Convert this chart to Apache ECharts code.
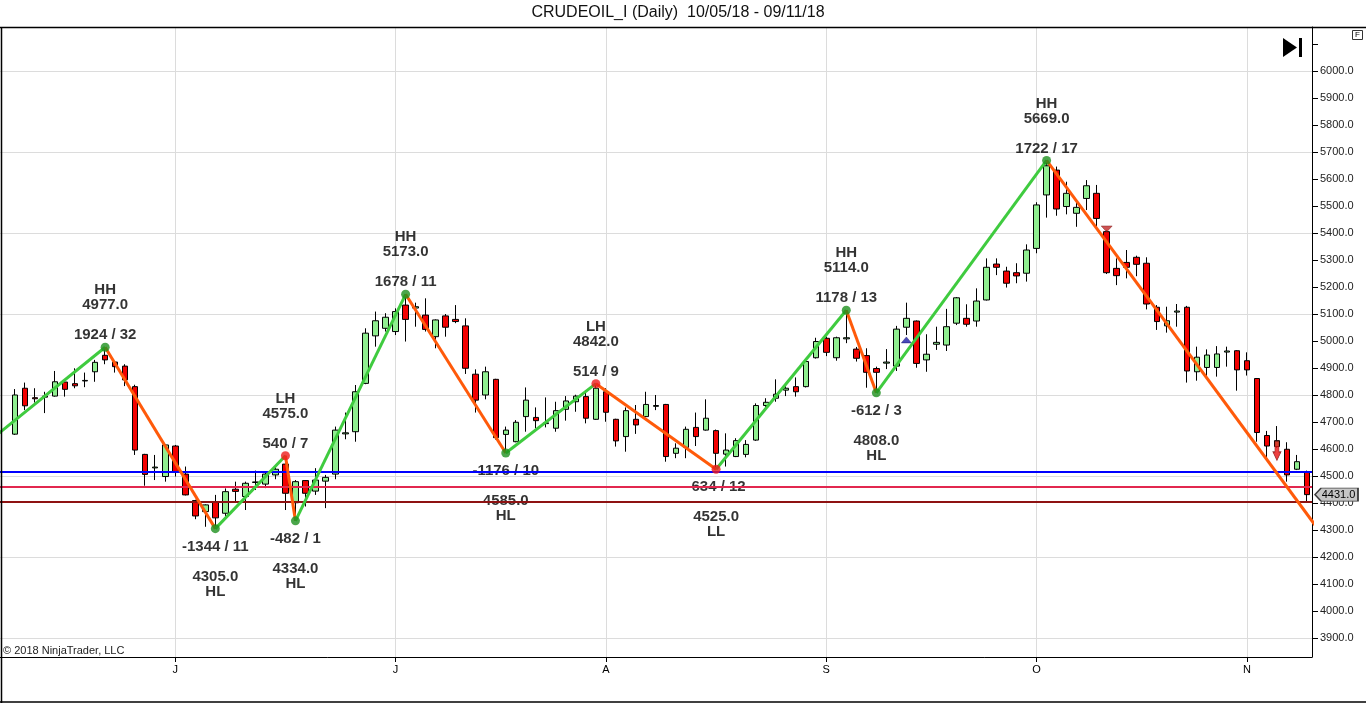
<!DOCTYPE html>
<html><head><meta charset="utf-8">
<script src="https://cdn.jsdelivr.net/npm/echarts@6/dist/echarts.min.js"></script>
<style>html,body{margin:0;padding:0;background:#fff}#c{width:1366px;height:703px}</style>
</head><body><div id="c"></div>
<script>
const FONT = '"Liberation Sans", Arial, Helvetica, sans-serif';

// ---- trading days (first entry is the empty slot before the first bar) ----
const mayDays = [9,10,11,14,15,16,17,18,21,22,23,24,25,28,29,30,31];
const junDays = [1,4,5,6,7,8,11,12,13,14,15,18,19,20,21,22,25,26,27,28,29];
const julDays = [2,3,4,5,6,9,10,11,12,13,16,17,18,19,20,23,24,25,26,27,30,31];
const augDays = [1,2,3,6,7,8,9,10,13,14,15,16,17,20,21,23,24,27,28,29,30,31];
const sepDays = [3,4,5,6,7,10,11,12,13,14,17,18,19,20,21,24,25,26,27,28];
const octDays = [1,3,4,5,8,9,10,11,12,15,16,17,18,19,22,23,24,25,26,29,30,31];
const novDays = [1,2,5,6,7,8,9];

// ---- month tick labels (category index of first bar of month) ----
const monthTickIndex = [17, 39, 60, 82, 103, 124];
const monthTickLabel = ['J', 'J', 'A', 'S', 'O', 'N'];

// ---- price grid lines ----
const gridPrice = [3900, 4200, 4500, 4800, 5100, 5400, 5700, 6000];

// ---- OHLC (bars 1..130) ----
const open = [4655,4825,4790,4792,4796,4848,4842,4852,4886,4947,
4922,4907,4831,4580,4530,4498,4611,4507,4409,4368,
4403,4362,4451,4424,4476,4470,4504,4544,4401,4483,
4444,4481,4507,4656,4664,4843,5019,5047,5035,5133,
5122,5096,5016,5093,5080,5056,4877,4800,4858,4654,
4627,4720,4717,4694,4677,4747,4775,4794,4710,4812,
4710,4646,4710,4720,4758,4765,4584,4606,4680,4670,
4668,4581,4572,4580,4633,4761,4788,4818,4831,4831,
4938,5010,4938,5008,4970,4946,4898,4918,4907,5051,
5074,4930,4988,4985,5066,5084,5074,5152,5285,5259,
5253,5251,5343,5541,5633,5498,5473,5528,5547,5405,
5269,5291,5310,5288,5125,5056,5107,5125,4886,4902,
4902,4959,4964,4927,4861,4650,4609,4599,4525,4516];
const high = [4822,4846,4825,4812,4889,4850,4899,4883,4930,4977,
4926,4914,4838,4582,4578,4618,4615,4535,4412,4395,
4430,4454,4479,4479,4520,4515,4535,4575,4485,4485,
4529,4504,4683,4735,4837,5047,5109,5103,5121,5173,
5142,5158,5080,5100,5133,5084,4895,4905,4860,4683,
4707,4828,4754,4791,4775,4796,4801,4818,4842,4825,
4712,4754,4763,4812,4800,4767,4621,4683,4735,4784,
4672,4658,4640,4633,4769,4788,4858,4841,4865,4930,
5012,5016,5016,5114,4978,4973,4905,4970,5056,5142,
5076,5025,5053,5119,5163,5136,5195,5306,5306,5275,
5288,5358,5514,5669,5646,5590,5516,5596,5578,5410,
5306,5337,5316,5310,5133,5127,5137,5130,4979,4969,
4981,4979,4966,4958,4863,4667,4685,4625,4578,4520];
const low = [4652,4744,4772,4733,4794,4794,4825,4829,4849,4914,
4883,4833,4578,4464,4485,4479,4498,4428,4340,4312,
4305,4350,4401,4374,4448,4455,4488,4374,4334,4387,
4430,4381,4488,4636,4627,4840,4979,5035,5022,4998,
5053,5035,4973,5016,5066,4878,4735,4784,4635,4585,
4625,4664,4677,4680,4664,4705,4738,4695,4708,4701,
4609,4590,4656,4718,4744,4553,4566,4566,4611,4668,
4525,4535,4570,4569,4630,4744,4775,4796,4794,4828,
4935,4944,4927,4992,4924,4827,4808,4896,4889,5022,
4901,4886,4967,4963,5059,5053,5053,5150,5244,5198,
5214,5220,5325,5457,5464,5469,5423,5485,5423,5248,
5207,5232,5240,5117,5041,5031,5053,4846,4853,4868,
4868,4905,4816,4872,4627,4566,4605,4479,4522,4401];
const close = [4800,4760,4786,4796,4849,4821,4834,4854,4921,4930,
4905,4856,4596,4506,4533,4615,4516,4430,4352,4393,
4345,4442,4443,4473,4478,4507,4525,4436,4479,4436,
4485,4495,4670,4660,4812,5029,5075,5088,5109,5080,
5127,5043,5078,5051,5072,4899,4781,4886,4642,4670,
4699,4781,4705,4697,4742,4778,4796,4714,4825,4736,
4630,4742,4689,4765,4761,4572,4603,4673,4646,4714,
4584,4596,4631,4617,4761,4773,4803,4825,4812,4924,
4998,4958,5012,5012,4936,4884,4884,4922,5044,5084,
4917,4951,4995,5053,5160,5062,5148,5273,5273,5214,
5241,5337,5504,5649,5489,5547,5495,5575,5454,5253,
5242,5273,5284,5137,5072,5075,5111,4889,4940,4948,
4952,4963,4893,4893,4661,4611,4631,4504,4553,4431];

// ---- ZigZag swing points (bar number, price) ----
const pivotBar   = [-22, 10, 21, 28, 29, 40, 50, 59, 71, 84, 87, 104, 140];
const pivotPrice = [4015, 4977, 4305, 4575, 4334, 5173, 4585, 4842, 4525, 5114, 4808, 5669, 3855];
// labels of pivots 1..11
const pivotType  = ['HH','HL','LH','HL','HH','HL','LH','LL','HH','HL','HH'];
const swingText  = ['1924 / 32','-1344 / 11','540 / 7','-482 / 1','1678 / 11','-1176 / 10','514 / 9','-634 / 12','1178 / 13','-612 / 3','1722 / 17'];

// ---- horizontal levels ----
const levelPrice = [4517, 4462, 4405];
const levelColor = ['#0000ff', '#e2274f', '#8e1212'];

// ---- drawn markers (bar number, price) ----
const markerBar   = [90, 110, 127];
const markerPrice = [5004, 5415, 4593];

// ---- build ----
const dates = [];
[[5,mayDays],[6,junDays],[7,julDays],[8,augDays],[9,sepDays],[10,octDays],[11,novDays]].forEach(([m,days]) => {
  days.forEach(d => dates.push('2018-' + String(m).padStart(2,'0') + '-' + String(d).padStart(2,'0')));
});
const candleData = ['-'];
for (let i = 0; i < open.length; i++) candleData.push([open[i], close[i], low[i], high[i]]);

const Y_MIN = 3829.6, Y_MAX = 6163;

const series = [];
// grid lines (months + price levels)
series.push({
  type: 'line', data: [], silent: true, xAxisIndex: 0, yAxisIndex: 0, z: 1,
  markLine: {
    silent: true, z: 1, symbol: ['none', 'none'], label: { show: false },
    lineStyle: { color: '#dcdcdc', width: 1, type: 'solid' },
    data: monthTickIndex.map(i => ({ xAxis: dates[i] })).concat(gridPrice.map(v => ({ yAxis: v })))
  }
});
// candles
const lastIdx = close.length;
series.push({
  type: 'candlestick', xAxisIndex: 0, yAxisIndex: 0, z: 2, barWidth: 6,
  data: candleData,
  itemStyle: { color: '#90ee90', color0: '#f20000', borderColor: '#000', borderColor0: '#000', borderWidth: 1 },
  markPoint: {
    silent: true, z: 8,
    symbol: 'path://M0,7 L7,0 L50,0 L50,14 L7,14 Z',
    symbolSize: [43, 13], symbolOffset: [29.5, 0],
    itemStyle: { color: '#c6c6c6', borderColor: '#3c3c3c', borderWidth: 1 },
    label: { show: true, position: 'inside', offset: [2, 0], color: '#000', fontSize: 11, fontFamily: FONT,
      formatter: p => Number(p.value).toFixed(1) },
    data: [{ coord: [dates[lastIdx], close[lastIdx - 1]], value: close[lastIdx - 1] }]
  }
});
// horizontal level lines
series.push({
  type: 'line', data: [], silent: true, xAxisIndex: 0, yAxisIndex: 0, z: 5,
  markLine: {
    silent: true, z: 5, symbol: ['none', 'none'], label: { show: false },
    data: levelPrice.map((v, i) => ({ yAxis: v, lineStyle: { color: levelColor[i], width: 2, type: 'solid' } }))
  }
});
// zigzag legs
for (let i = 0; i < pivotBar.length - 1; i++) {
  const up = pivotPrice[i + 1] > pivotPrice[i];
  series.push({
    type: 'line', xAxisIndex: 1, yAxisIndex: 0, z: 6, silent: true, clip: true,
    symbol: 'none',
    lineStyle: { color: up ? '#3fcb3f' : '#ff5a0a', width: 3 },
    data: [[pivotBar[i], pivotPrice[i]], [pivotBar[i + 1], pivotPrice[i + 1]]]
  });
}
// pivot labels
const labelItems = [], dotItems = [];
pivotType.forEach((t, k) => {
  const i = k + 1;
  const isHigh = t[1] === 'H';
  const priceTxt = pivotPrice[i].toFixed(1);
  labelItems.push({
    value: [pivotBar[i], pivotPrice[i]],
    label: {
      show: true, position: isHigh ? 'top' : 'bottom', distance: isHigh ? 0 : 6,
      formatter: isHigh ? (t + '\n' + priceTxt + '\n\n' + swingText[k]) : (swingText[k] + '\n\n' + priceTxt + '\n' + t)
    }
  });
  dotItems.push({ value: [pivotBar[i], pivotPrice[i]], itemStyle: { color: t[0] === 'H' ? '#1e901e' : '#ee1c1c' } });
});
series.push({
  type: 'scatter', xAxisIndex: 1, yAxisIndex: 0, z: 3, silent: true, symbolSize: 9,
  itemStyle: { color: 'rgba(0,0,0,0)' },
  label: { color: '#000', fontFamily: FONT, fontSize: 15, fontWeight: 'bold', lineHeight: 15, align: 'center' },
  data: labelItems
});
series.push({
  type: 'scatter', xAxisIndex: 1, yAxisIndex: 0, z: 7, silent: true, symbolSize: 9,
  data: dotItems
});
// drawn markers
const markerStyle = [
  { symbol: 'triangle', symbolSize: [10, 6], symbolRotate: 0, itemStyle: { color: '#1c1ca8', borderColor: '#0a0a60', borderWidth: 0.5 } },
  { symbol: 'triangle', symbolSize: [11, 6], symbolRotate: 180, itemStyle: { color: '#c02828', borderColor: '#701010', borderWidth: 0.5 } },
  { symbol: 'path://M2,0 L6,0 L6,10 L8,10 L4,18 L0,10 L2,10 Z', symbolSize: [8, 19], symbolKeepAspect: false, symbolRotate: 0, itemStyle: { color: '#e81010', borderColor: '#801010', borderWidth: 0.8 } }
];
series.push({
  type: 'scatter', xAxisIndex: 0, yAxisIndex: 0, z: 4, silent: true,
  data: markerBar.map((b, i) => Object.assign({ value: [dates[b], markerPrice[i]] }, markerStyle[i]))
});

const option = {
  animation: false,
  backgroundColor: '#ffffff',
  grid: { left: 0, right: 54, top: 27, bottom: 46, show: false },
  xAxis: [
    {
      type: 'category', data: dates, boundaryGap: true,
      axisLine: { show: true, onZero: false, lineStyle: { color: '#000', width: 1 } },
      axisTick: { show: true, alignWithLabel: true, length: 5, lineStyle: { color: '#000' },
        interval: (i) => monthTickIndex.includes(i) },
      axisLabel: { show: true, color: '#000', fontSize: 11, fontFamily: FONT, margin: 7,
        interval: (i) => monthTickIndex.includes(i),
        formatter: (v, i) => { const k = monthTickIndex.indexOf(i); return k >= 0 ? monthTickLabel[k] : ''; } },
      splitLine: { show: false }
    },
    { type: 'value', min: -0.5, max: lastIdx + 0.5, show: false, axisLine: { onZero: false } }
  ],
  yAxis: [
    {
      type: 'value', position: 'right', min: Y_MIN, max: Y_MAX, splitNumber: 23,
      axisLine: { show: true, onZero: false, lineStyle: { color: '#000', width: 1 } },
      axisTick: { show: true, length: 6, lineStyle: { color: '#000' } },
      axisLabel: { show: true, color: '#222', fontSize: 11, fontFamily: FONT, margin: 8,
        showMinLabel: false, showMaxLabel: false,
        formatter: v => (v >= 3900 && v <= 6000 && Math.abs(v % 100) < 1e-6) ? v.toFixed(1) : '' },
      splitLine: { show: false }
    }
  ],
  graphic: [
    { type: 'text', x: 678, y: 13, z: 10, silent: true,
      style: { text: 'CRUDEOIL_I (Daily)  10/05/18 - 09/11/18', fill: '#111', font: '16px ' + FONT, textAlign: 'center', textVerticalAlign: 'middle' } },
    { type: 'line', z: 10, silent: true, shape: { x1: 0, y1: 27.5, x2: 1366, y2: 27.5 }, style: { stroke: '#000', lineWidth: 1.5 } },
    { type: 'line', z: 10, silent: true, shape: { x1: 1.5, y1: 27, x2: 1.5, y2: 703 }, style: { stroke: '#000', lineWidth: 1.5 } },
    { type: 'line', z: 10, silent: true, shape: { x1: 0, y1: 702, x2: 1366, y2: 702 }, style: { stroke: '#000', lineWidth: 1.5 } },
    { type: 'polygon', z: 10, silent: true, shape: { points: [[1283, 38], [1297, 47.5], [1283, 57]] }, style: { fill: '#000' } },
    { type: 'rect', z: 10, silent: true, shape: { x: 1299, y: 38, width: 3, height: 19 }, style: { fill: '#000' } },
    { type: 'rect', z: 10, silent: true, shape: { x: 1352.5, y: 30.5, width: 10, height: 9 }, style: { fill: '#fff', stroke: '#333', lineWidth: 1 } },
    { type: 'text', z: 11, silent: true, x: 1357.5, y: 35, style: { text: 'F', fill: '#000', font: '8px ' + FONT, textAlign: 'center', textVerticalAlign: 'middle' } },
    { type: 'text', z: 10, silent: true, x: 3, y: 651, style: { text: '\u00A9 2018 NinjaTrader, LLC', fill: '#222', font: '11px ' + FONT, textAlign: 'left', textVerticalAlign: 'middle' } }
  ],
  series: series
};

const chart = echarts.init(document.getElementById('c'), null, { renderer: 'canvas' });
chart.setOption(option);
</script>
</body></html>
